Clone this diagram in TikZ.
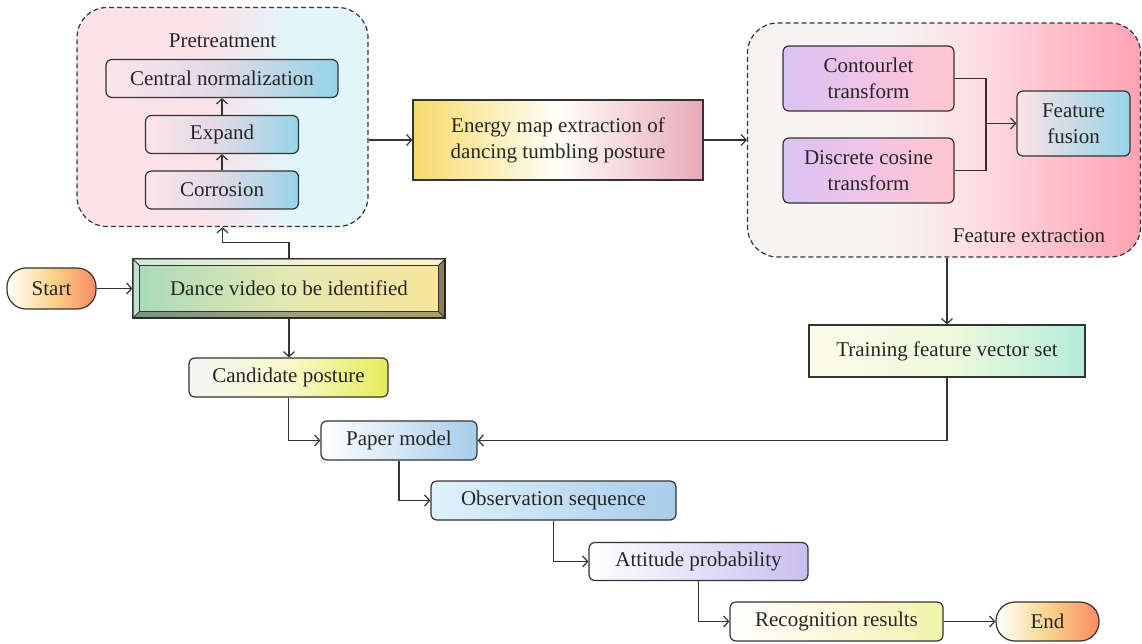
\documentclass[tikz,border=0pt]{standalone}
\usepackage{fontspec}
\setmainfont{Liberation Serif}
\usetikzlibrary{calc,arrows.meta}

\definecolor{edge}{HTML}{333333}
\definecolor{prepink}{HTML}{FDE1E8}
\definecolor{precyan}{HTML}{E1F5FA}
\definecolor{stepcyan}{HTML}{96D3E8}
\definecolor{fxgray}{HTML}{F5F4F2}
\definecolor{fxpinkA}{HTML}{FCE0E5}
\definecolor{fxpinkB}{HTML}{FFA2B3}
\pgfdeclarehorizontalshading{preshade}{100bp}{color(0bp)=(prepink); color(25bp)=(prepink); color(47bp)=(prepink); color(62bp)=(precyan); color(75bp)=(precyan); color(100bp)=(precyan)}
\pgfdeclarehorizontalshading{fxshade}{100bp}{color(0bp)=(fxgray); color(25bp)=(fxgray); color(43bp)=(fxgray); color(53bp)=(fxpinkA); color(75bp)=(fxpinkB); color(100bp)=(fxpinkB)}

\tikzset{
  txt/.style={font=\fontsize{21}{26}\selectfont, text=black!85},
  box/.style={txt, draw=edge, line width=1.2pt, rounded corners=6pt, inner sep=0pt, align=center},
  sbox/.style={box, rounded corners=0pt},
  term/.style={box, rounded corners=19pt},
  group/.style={draw=edge, line width=1.2pt, dash pattern=on 5pt off 3pt, rounded corners=30pt, inner sep=0pt},
  link/.style={draw=edge, line width=1.2pt, ->},
  >={Straight Barb[length=5pt,width=11pt]}
}

\begin{document}
\begin{tikzpicture}[x=1pt,y=-1pt]
	\useasboundingbox (0,0) rectangle (1142,643);
	%pretreatment group
	\node[group, shading=preshade, minimum width=291pt, minimum height=219pt] (pre) at (222.5,117) {};
	\node[txt] (prelbl) at (222.5,41) {Pretreatment};
	\node[box, left color=prepink!90!white, right color=stepcyan, middle color={rgb,255:red,222;green,218;blue,230}, minimum width=232pt, minimum height=38pt] (cnorm) at (222,78.5) {Central normalization};
	\node[box, left color=prepink!90!white, right color=stepcyan, middle color={rgb,255:red,222;green,218;blue,230}, minimum width=153pt, minimum height=38pt] (expand) at (222,134.5) {Expand};
	\node[box, left color=prepink!90!white, right color=stepcyan, middle color={rgb,255:red,222;green,218;blue,230}, minimum width=153pt, minimum height=38pt] (corr) at (222,190) {Corrosion};
	\draw[link] (corr) -- (expand);
	\draw[link] (expand) -- (cnorm);
	%start and input video
	\node[term, left color=white, right color={rgb,255:red,249;green,139;blue,98}, middle color={rgb,255:red,249;green,213;blue,140}, minimum width=89pt, minimum height=41pt] (start) at (51.5,288.5) {Start};
	\node[sbox, left color={rgb,255:red,168;green,218;blue,186}, right color={rgb,255:red,249;green,229;blue,152}, middle color={rgb,255:red,228;green,232;blue,178}, minimum width=312pt, minimum height=59pt] (dance) at (289,288.5) {Dance video to be identified};
	% bevel of the video frame
	\fill[white, opacity=.45] (dance.north west) -- (dance.north east) -- ($(dance.north east)+(-7,7)$) -- ($(dance.north west)+(7,7)$) -- cycle;
	\fill[white, opacity=.25] (dance.north west) -- (dance.south west) -- ($(dance.south west)+(7,-7)$) -- ($(dance.north west)+(7,7)$) -- cycle;
	\fill[black, opacity=.3] (dance.south west) -- (dance.south east) -- ($(dance.south east)+(-7,-7)$) -- ($(dance.south west)+(7,-7)$) -- cycle;
	\fill[black, opacity=.45] (dance.north east) -- (dance.south east) -- ($(dance.south east)+(-7,-7)$) -- ($(dance.north east)+(-7,7)$) -- cycle;
	\draw[edge, line width=.8pt] ($(dance.north west)+(7,7)$) rectangle ($(dance.south east)+(-7,-7)$);
	\draw[edge, line width=.8pt] (dance.north west) -- ++(7,7) (dance.north east) -- ++(-7,7) (dance.south west) -- ++(7,-7) (dance.south east) -- ++(-7,-7);
	\draw[edge, line width=1.2pt] (dance.north west) rectangle (dance.south east);
	\draw[link] (start) -- (dance);
	\draw[link] (dance.north) -- ++(0,-16) -| (pre.south);
	%energy map
	\node[sbox, left color={rgb,255:red,246;green,218;blue,106}, right color={rgb,255:red,232;green,169;blue,185}, middle color={rgb,255:red,255;green,255;blue,248}, minimum width=290pt, minimum height=80pt] (energy) at (558,140) {Energy map extraction of\\dancing tumbling posture};
	\draw[link] (pre.east |- energy) -- (energy.west);
	%feature extraction group
	\node[group, shading=fxshade, minimum width=393pt, minimum height=234pt] (fext) at (944,140) {};
	\node[txt] (fextlbl) at (1029,236) {Feature extraction};
	\node[box, left color={rgb,255:red,216;green,195;blue,241}, right color={rgb,255:red,255;green,198;blue,203}, middle color={rgb,255:red,241;green,195;blue,232}, minimum width=171pt, minimum height=65pt] (cont) at (868.5,78.5) {Contourlet\\transform};
	\node[box, left color={rgb,255:red,216;green,195;blue,241}, right color={rgb,255:red,255;green,198;blue,203}, middle color={rgb,255:red,241;green,195;blue,232}, minimum width=171pt, minimum height=65pt] (dct) at (868.5,170.5) {Discrete cosine\\transform};
	\node[box, left color={rgb,255:red,252;green,226;blue,230}, right color={rgb,255:red,149;green,212;blue,231}, minimum width=113pt, minimum height=65pt] (fusion) at (1073.5,123.5) {Feature\\fusion};
	\coordinate (join) at (986,123.5);
	\draw[edge, line width=1.2pt] (cont.east) -| (join);
	\draw[edge, line width=1.2pt] (dct.east) -| (join);
	\draw[link] (join) -- (fusion);
	\draw[link] (energy.east) -- (energy.east -| fext.west);
	%training set
	\node[sbox, left color={rgb,255:red,253;green,251;blue,234}, right color={rgb,255:red,181;green,237;blue,217}, middle color={rgb,255:red,238;green,250;blue,220}, minimum width=276pt, minimum height=52pt] (train) at (947,351) {Training feature vector set};
	\draw[link] (train.north |- fext.south) -- (train.north);
	%recognition chain
	\node[box, left color={rgb,255:red,245;green,245;blue,245}, right color={rgb,255:red,229;green,236;blue,90}, middle color={rgb,255:red,247;green,249;blue,204}, minimum width=199pt, minimum height=39pt] (cand) at (288.5,377.5) {Candidate posture};
	\node[box, left color=white, right color={rgb,255:red,168;green,204;blue,234}, minimum width=156pt, minimum height=39pt] (paper) at (399,440.5) {Paper model};
	\node[box, left color={rgb,255:red,223;green,243;blue,250}, right color={rgb,255:red,169;green,203;blue,235}, minimum width=245pt, minimum height=39pt] (obs) at (553.5,500.5) {Observation sequence};
	\node[box, left color=white, right color={rgb,255:red,201;green,191;blue,240}, minimum width=219pt, minimum height=38pt] (att) at (698.5,561.5) {Attitude probability};
	\node[box, left color=white, right color={rgb,255:red,238;green,245;blue,168}, middle color={rgb,255:red,253;green,247;blue,218}, minimum width=213pt, minimum height=39pt] (rec) at (836.5,621.5) {Recognition results};
	\node[term, left color=white, right color={rgb,255:red,249;green,139;blue,98}, middle color={rgb,255:red,249;green,213;blue,140}, minimum width=103pt, minimum height=39pt] (end) at (1047.5,621.5) {End};
	\draw[link] (dance.south) -- (dance.south |- cand.north);
	\draw[link] (cand.south) |- (paper.west);
	\draw[link] (train.south) |- (paper.east);
	\draw[link] (paper.south) |- (obs.west);
	\draw[link] (obs.south) |- (att.west);
	\draw[link] (att.south) |- (rec.west);
	\draw[link] (rec) -- (end);
\end{tikzpicture}
\end{document}
